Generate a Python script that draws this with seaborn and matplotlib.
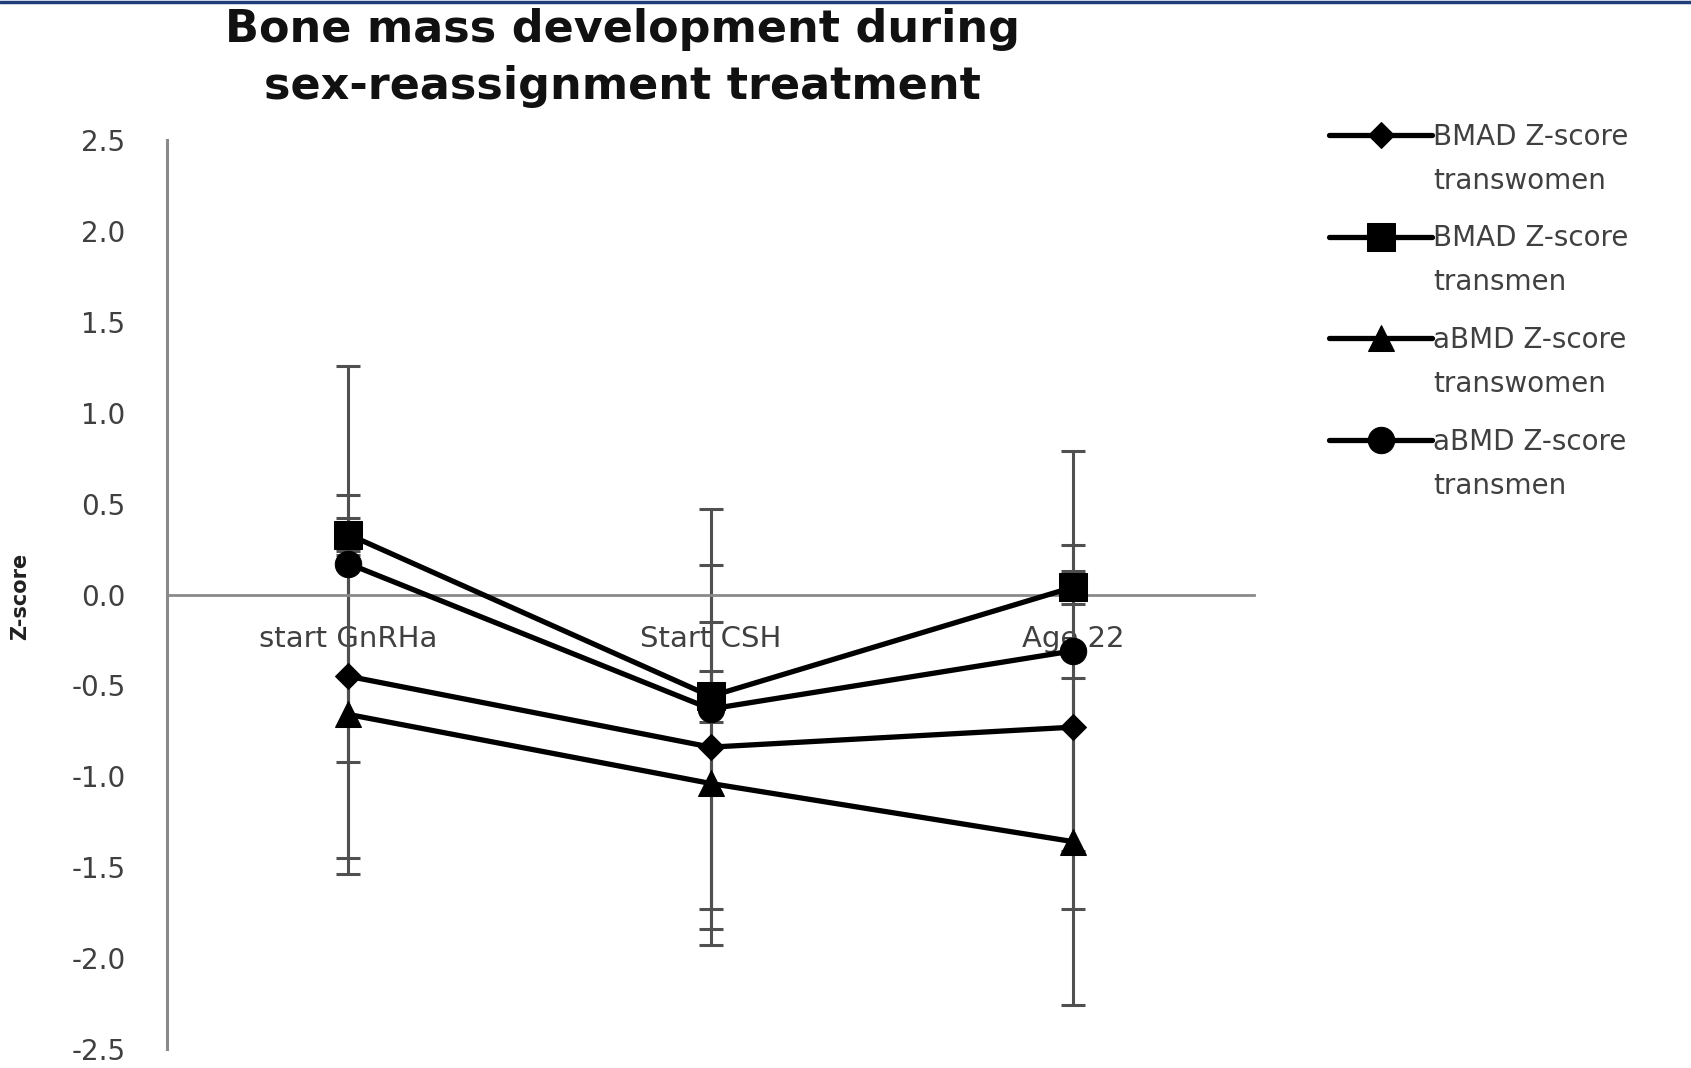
import matplotlib
matplotlib.use("Agg")
import matplotlib.pyplot as plt
from matplotlib.lines import Line2D
import seaborn as sns
import pandas as pd

sns.set_style("white")
plt.rcParams["font.family"] = ["DejaVu Sans"]

stages = ["start GnRHa", "Start CSH", "Age 22"]

bmad_women = [-0.45, -0.84, -0.73]
bmad_women_sd = [1.00, 1.00, 1.00]
bmad_men = [0.33, -0.56, 0.04]
bmad_men_sd = [0.09, 0.14, 0.09]
abmd_women = [-0.66, -1.04, -1.36]
abmd_women_sd = [0.88, 0.89, 0.90]
abmd_men = [0.17, -0.63, -0.31]
abmd_men_sd = [1.09, 1.10, 1.10]

series_names = [
    ("BMAD Z-score", "transwomen"),
    ("BMAD Z-score", "transmen"),
    ("aBMD Z-score", "transwomen"),
    ("aBMD Z-score", "transmen"),
]
series_values = [bmad_women, bmad_men, abmd_women, abmd_men]
series_sd = [bmad_women_sd, bmad_men_sd, abmd_women_sd, abmd_men_sd]
markers = ["D", "s", "^", "o"]
marker_sizes = [13, 20, 19, 19]

yticks = [2.5, 2.0, 1.5, 1.0, 0.5, 0.0, -0.5, -1.0, -1.5, -2.0, -2.5]

text_grey = "#404040"
axis_grey = "#8a8a8a"

fig = plt.figure(figsize=(16.91, 10.68), dpi=100)
ax = fig.add_axes([0.0989, 0.018, 0.6428, 0.8507])

pos = list(range(len(stages)))
for (l1, l2), vals, sd, m, ms in zip(series_names, series_values, series_sd, markers, marker_sizes):
    df = pd.DataFrame({"pos": pos, "z": vals, "sd": sd})
    ax.errorbar(df["pos"], df["z"], yerr=df["sd"], fmt="none", ecolor="#505050",
                elinewidth=2.2, capsize=8.5, capthick=2.2, zorder=1)
    sns.lineplot(data=df, x="pos", y="z", color="black", marker=m, markersize=ms,
                 markeredgecolor="black", linewidth=3.8, label=l1, ax=ax, zorder=3)

ax.set_xlim(-0.5, 2.5)
ax.set_ylim(-2.5, 2.5)
ax.set_yticks(yticks)
ax.set_yticklabels([f"{v:.1f}" for v in yticks])
ax.set_xticks(pos)
ax.set_xticklabels(stages)
ax.set_xlabel("")
ax.set_ylabel("")

for s in ["top", "right"]:
    ax.spines[s].set_visible(False)
ax.spines["left"].set_color(axis_grey)
ax.spines["left"].set_linewidth(2.2)
ax.spines["bottom"].set_position(("data", 0))
ax.spines["bottom"].set_color(axis_grey)
ax.spines["bottom"].set_linewidth(2.0)
ax.tick_params(axis="y", length=0, pad=30, labelsize=20, labelcolor=text_grey)
ax.tick_params(axis="x", length=0, pad=22, labelsize=21, labelcolor=text_grey)
for lab in ax.get_xticklabels():
    lab.set_zorder(2)

fig.text(0.012, 0.442, "Z-score", rotation=90, ha="center", va="center",
         fontsize=15, fontweight="bold", color="#202020")
fig.text(0.368, 0.946, "Bone mass development during\nsex-reassignment treatment",
         ha="center", va="center", fontsize=32, fontweight="bold",
         color="#111111", linespacing=1.42)

handles, labels = ax.get_legend_handles_labels()
ax.get_legend().remove()
leg = fig.legend(handles, labels, loc="upper left", bbox_to_anchor=(0.786, 0.885),
                 frameon=False, fontsize=20, handlelength=3.7, handletextpad=0.05,
                 labelspacing=2.65, borderpad=0, borderaxespad=0)
for t in leg.get_texts():
    t.set_color(text_grey)

# second line of each legend entry, placed under the first line
fig.canvas.draw()
W, H = fig.canvas.get_width_height()
for t, (l1, l2) in zip(leg.get_texts(), series_names):
    bb = t.get_window_extent()
    fig.text(bb.x0 / W, (bb.y0 - 16) / H, l2, ha="left", va="top",
             fontsize=20, color=text_grey)

fig.add_artist(Line2D([0, 1], [0.998, 0.998], transform=fig.transFigure,
                      color="#1f3d7a", linewidth=2.5))

fig.savefig("out.png", dpi=100)
